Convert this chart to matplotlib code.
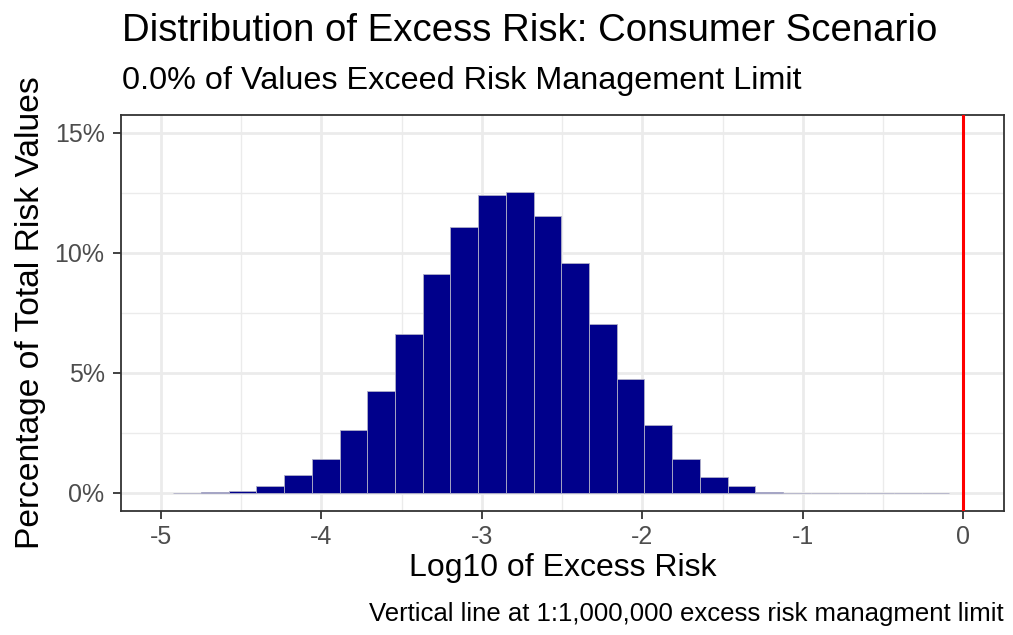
import matplotlib
matplotlib.use('Agg')
import matplotlib.pyplot as plt
import numpy as np
from matplotlib.ticker import MultipleLocator, FuncFormatter

plt.rcParams['font.family'] = ['Liberation Sans', 'DejaVu Sans']

# histogram: bins centred on multiples of bin_width (ggplot-style), k = -28 .. -1
bin_width = 0.17276
bin_index = list(range(-28, 0))
pct_values = [0.01, 0.03, 0.10, 0.30, 0.75, 1.42, 2.61, 4.23, 6.62, 9.14,
              11.08, 12.42, 12.53, 11.55, 9.58, 7.06, 4.75, 2.85, 1.42, 0.68,
              0.28, 0.06, 0.02, 0.01, 0.01, 0.01, 0.01, 0.01]
limit_x = 0.0

x_ticks = [-5, -4, -3, -2, -1, 0]
y_ticks = [0, 5, 10, 15]

title = "Distribution of Excess Risk: Consumer Scenario"
subtitle = "0.0% of Values Exceed Risk Management Limit"
caption = "Vertical line at 1:1,000,000 excess risk managment limit"

fig = plt.figure(figsize=(10.13, 6.35), dpi=100)
ax = fig.add_axes([0.1194, 0.1953, 0.8717, 0.6236])

centers = np.array(bin_index) * bin_width
ax.bar(centers, pct_values, width=bin_width, color='#00008B',
       edgecolor='#b0b0c8', linewidth=0.6, zorder=3)
ax.axvline(limit_x, color='#FF0000', linewidth=2.2, zorder=4)

ax.set_xlim(-5.25, 0.254)
ax.set_ylim(-0.75, 15.75)
ax.set_xticks(x_ticks)
ax.set_yticks(y_ticks)
ax.xaxis.set_minor_locator(MultipleLocator(0.5))
ax.yaxis.set_minor_locator(MultipleLocator(2.5))
ax.yaxis.set_major_formatter(FuncFormatter(lambda v, p: f"{int(v)}%"))
ax.xaxis.set_major_formatter(FuncFormatter(lambda v, p: f"{int(v)}"))

ax.grid(which='major', color='#EBEBEB', linewidth=2.0, zorder=0)
ax.grid(which='minor', color='#EBEBEB', linewidth=1.0, zorder=0)
ax.set_axisbelow(True)
for s in ax.spines.values():
    s.set_color('#333333')
    s.set_linewidth(1.3)
ax.tick_params(which='major', length=5.8, width=1.3, color='#333333',
               labelsize=18, labelcolor='#4D4D4D')
ax.tick_params(axis='x', pad=4.5)
ax.tick_params(axis='y', pad=6)
ax.tick_params(which='minor', length=0)

ax.set_xlabel("Log10 of Excess Risk", fontsize=23, labelpad=3)
ax.set_ylabel("Percentage of Total Risk Values", fontsize=24.2, labelpad=6)

fig.text(0.1204, 1 - 41 / 635, title, fontsize=27.6, ha='left', va='baseline')
fig.text(0.1204, 1 - 89 / 635, subtitle, fontsize=23.3, ha='left', va='baseline')
fig.text(0.991, 1 - 621 / 635, caption, fontsize=18.5, ha='right', va='baseline')

fig.savefig('out.png', dpi=100)
